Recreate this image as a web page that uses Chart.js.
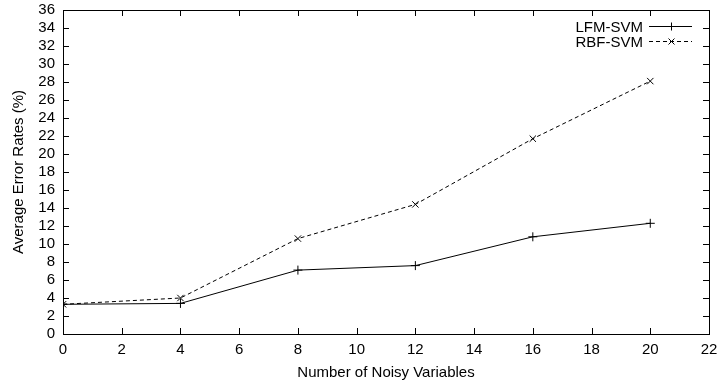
<!DOCTYPE html>
<html>
<head>
<meta charset="utf-8">
<script src="https://cdn.jsdelivr.net/npm/chart.js@4.4.0/dist/chart.umd.min.js"></script>
<style>
  html, body { margin: 0; padding: 0; background: #fff; }
  #wrap { width: 719px; height: 386px; }
</style>
</head>
<body>
<div id="wrap"><canvas id="c" width="719" height="386"></canvas></div>
<script>
const noisyVariables = [0, 4, 8, 12, 16, 20];
const lfmSvm = [3.3, 3.4, 7.1, 7.6, 10.8, 12.3];
const rbfSvm = [3.3, 4.0, 10.6, 14.4, 21.7, 28.1];
const seriesNames = ['LFM-SVM', 'RBF-SVM'];
const xTitle = 'Number of Noisy Variables';
const yTitle = 'Average Error Rates (%)';
const xRange = [0, 22, 2];
const yRange = [0, 36, 2];

const FONT = 'Liberation Sans, Arial, Helvetica, sans-serif';
const FS = 15;

const boxTicks = {
  id: 'boxTicks',
  afterDraw(chart) {
    const ctx = chart.ctx, a = chart.chartArea;
    const xs = chart.scales.x, ys = chart.scales.y;
    ctx.save();
    ctx.strokeStyle = '#000';
    ctx.lineWidth = 1;
    ctx.beginPath();
    const L = 6;
    xs.ticks.forEach(t => {
      const p = Math.round(xs.getPixelForValue(t.value)) + 0.5;
      if (t.value === xRange[0] || t.value === xRange[1]) return;
      ctx.moveTo(p, a.bottom); ctx.lineTo(p, a.bottom - L);
      ctx.moveTo(p, a.top); ctx.lineTo(p, a.top + L);
    });
    ys.ticks.forEach(t => {
      const p = Math.round(ys.getPixelForValue(t.value)) + 0.5;
      if (t.value === yRange[0] || t.value === yRange[1]) return;
      ctx.moveTo(a.left, p); ctx.lineTo(a.left + L, p);
      ctx.moveTo(a.right, p); ctx.lineTo(a.right - L, p);
    });
    ctx.stroke();
    ctx.strokeRect(Math.round(a.left) + 0.5, Math.round(a.top) + 0.5,
                   Math.round(a.right - a.left), Math.round(a.bottom - a.top));
    // legend (gnuplot style: text, then sample)
    const rows = chart.data.datasets;
    ctx.font = FS + 'px ' + FONT;
    ctx.textAlign = 'right';
    ctx.textBaseline = 'middle';
    rows.forEach((ds, i) => {
      const y = Math.round(a.top + 16 + i * 15) + 0.5;
      const textRight = a.right - 66;
      const lineL = a.right - 60, lineR = a.right - 17;
      ctx.fillStyle = '#000';
      ctx.fillText(ds.label, textRight, y + 1);
      ctx.setLineDash(ds.borderDash || []);
      ctx.beginPath();
      ctx.moveTo(lineL, y); ctx.lineTo(lineR, y);
      ctx.stroke();
      ctx.setLineDash([]);
      const cx = Math.round((lineL + lineR) / 2) + 0.5, r = 4;
      ctx.beginPath();
      if (ds.pointStyle === 'cross') {
        ctx.moveTo(cx - r, y); ctx.lineTo(cx + r, y);
        ctx.moveTo(cx, y - r); ctx.lineTo(cx, y + r);
      } else {
        const d = r * 0.75;
        ctx.moveTo(cx - d, y - d); ctx.lineTo(cx + d, y + d);
        ctx.moveTo(cx - d, y + d); ctx.lineTo(cx + d, y - d);
      }
      ctx.stroke();
    });
    ctx.restore();
  }
};

new Chart(document.getElementById('c'), {
  type: 'line',
  data: {
    datasets: [
      {
        label: seriesNames[0],
        data: noisyVariables.map((x, i) => ({ x, y: lfmSvm[i] })),
        borderColor: '#000', backgroundColor: '#000',
        borderWidth: 1, pointStyle: 'cross', pointRadius: 4.5,
        pointBorderWidth: 1, fill: false, tension: 0
      },
      {
        label: seriesNames[1],
        data: noisyVariables.map((x, i) => ({ x, y: rbfSvm[i] })),
        borderColor: '#000', backgroundColor: '#000',
        borderWidth: 1, borderDash: [4, 3], pointStyle: 'crossRot', pointRadius: 4.5,
        pointBorderWidth: 1, fill: false, tension: 0
      }
    ]
  },
  options: {
    responsive: false,
    animation: false,
    devicePixelRatio: 1,
    layout: { padding: { top: 10, right: 0, left: 0, bottom: 0 } },
    plugins: { legend: { display: false }, tooltip: { enabled: false } },
    scales: {
      x: {
        type: 'linear', min: xRange[0], max: xRange[1],
        grid: { display: false, drawTicks: false },
        border: { display: false },
        ticks: { stepSize: xRange[2], autoSkip: false, maxRotation: 0, color: '#000', font: { family: FONT, size: FS }, padding: 7 },
        title: { display: true, text: xTitle, color: '#000', font: { family: FONT, size: FS }, padding: { top: 4, bottom: 4 } },
        afterFit(s) { s.height = 52; s.paddingLeft = 0; s.paddingRight = 0; }
      },
      y: {
        type: 'linear', min: yRange[0], max: yRange[1],
        grid: { display: false, drawTicks: false },
        border: { display: false },
        ticks: { stepSize: yRange[2], autoSkip: false, color: '#000', font: { family: FONT, size: FS, lineHeight: 1 }, padding: 8 },
        title: { display: true, text: yTitle, color: '#000', font: { family: FONT, size: FS }, padding: { top: 10, bottom: 4 } },
        afterFit(s) { s.width = 63; s.paddingTop = 0; s.paddingBottom = 0; }
      },
      yRight: {
        type: 'linear', position: 'right', min: yRange[0], max: yRange[1],
        grid: { display: false, drawTicks: false },
        border: { display: false },
        ticks: { display: false },
        afterFit(s) { s.width = 10; s.paddingTop = 0; s.paddingBottom = 0; }
      }
    }
  },
  plugins: [boxTicks]
});
</script>
</body>
</html>
